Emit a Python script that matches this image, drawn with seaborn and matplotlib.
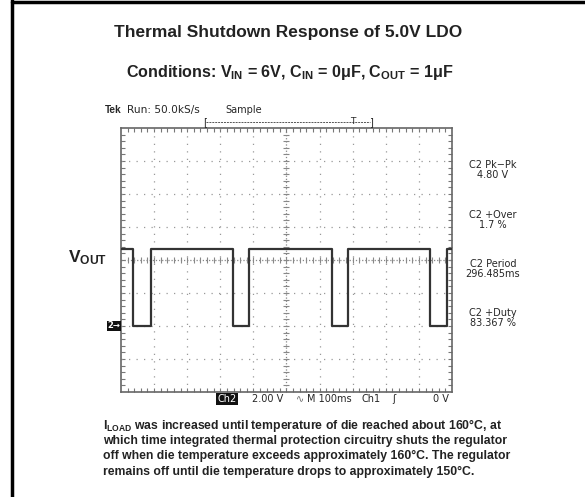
import numpy as np
import pandas as pd
import matplotlib
matplotlib.use("Agg")
import matplotlib.pyplot as plt
import seaborn as sns
from matplotlib.lines import Line2D

# scope trace data: edge times (ms) alternate falling / rising
edge_times = [37, 91, 339, 387, 637, 687, 934, 984]
v_high = 4.67
v_low = 0.0
t_start, t_end = 0, 1000

readout_labels = ["C2 Pk\u2212Pk", "C2 +Over", "C2 Period", "C2 +Duty"]
readout_values = ["4.80 V", "1.7 %", "296.485ms", "83.367 %"]

para_lines = [
    "$I_{LOAD}$ was increased until temperature of die reached about 160\u00b0C, at",
    "which time integrated thermal protection circuitry shuts the regulator",
    "off when die temperature exceeds approximately 160\u00b0C. The regulator",
    "remains off until die temperature drops to approximately 150\u00b0C.",
]

sns.set_style("white")
plt.rcParams["font.family"] = ["Liberation Sans", "DejaVu Sans"]
plt.rcParams["mathtext.fontset"] = "custom"
plt.rcParams["mathtext.rm"] = "Liberation Sans:bold"
plt.rcParams["mathtext.it"] = "Liberation Sans:bold"
plt.rcParams["mathtext.bf"] = "Liberation Sans:bold"

W, H = 585, 497
fig = plt.figure(figsize=(W / 100, H / 100), dpi=100)


def px(x, y):
    return x / W, 1 - y / H


# build the stepped waveform from the edges
ts, vs = [t_start], [v_high]
level = v_high
for t in edge_times:
    ts.append(t)
    vs.append(level)
    level = v_low if level == v_high else v_high
    ts.append(t)
    vs.append(level)
ts.append(t_end)
vs.append(level)
trace = pd.DataFrame({"time": ts, "volts": vs})

x0, x1, y0, y1 = 121, 452, 128, 392
ax = fig.add_axes([x0 / W, 1 - y1 / H, (x1 - x0) / W, (y1 - y0) / H])
sns.lineplot(data=trace, x="time", y="volts", sort=False, estimator=None,
             color="#333333", lw=1.6, ax=ax, zorder=5)
ax.set_xlim(0, 1000)
ax.set_ylim(-4, 12)
ax.set_xlabel("")
ax.set_ylabel("")

# dotted graticule
for xv in range(100, 1000, 100):
    if xv != 500:
        ax.axvline(xv, color="#999999", lw=0.9, ls=(0, (1, 5)), zorder=1)
for yv in range(-2, 12, 2):
    if yv != 4:
        ax.axhline(yv, color="#999999", lw=0.9, ls=(0, (1, 5)), zorder=1)
# centre crosshair with minor ticks
ax.axvline(500, color="#888888", lw=0.9, ls=(0, (1, 1.5)), zorder=1)
ax.axhline(4, color="#888888", lw=0.9, ls=(0, (1, 1.5)), zorder=1)
xm = np.arange(20, 1000, 20)
ym = np.arange(-3.6, 12, 0.4)
ax.plot(xm, np.full(len(xm), 4.0), ls="none", marker="|", ms=5, mew=0.8, color="#888888", zorder=2)
ax.plot(np.full(len(ym), 500.0), ym, ls="none", marker="_", ms=5, mew=0.8, color="#888888", zorder=2)

ax.set_xticks(np.arange(20, 1000, 20))
ax.set_yticks(np.arange(-3.6, 12, 0.4))
ax.tick_params(direction="in", length=3, width=0.8, color="#777777",
               top=True, right=True, bottom=True, left=True,
               labelbottom=False, labelleft=False)
for s in ax.spines.values():
    s.set_color("#666666")
    s.set_linewidth(1.2)

# page border
fig.add_artist(Line2D([12 / W, 12 / W], [0, 1], color="black", lw=2.5))
fig.add_artist(Line2D([12 / W, 1], [1 - 1.5 / H, 1 - 1.5 / H], color="black", lw=2.5))

# titles
fig.text(*px(288, 33), "Thermal Shutdown Response of 5.0V LDO", ha="center", va="center",
         fontsize=12.5, fontweight="bold", color="#222222")
fig.text(*px(290, 72), "Conditions: $V_{IN}$ = 6V, $C_{IN}$ = 0\u03bcF, $C_{OUT}$ = 1\u03bcF",
         ha="center", va="center", fontsize=11.6, fontweight="bold", color="#222222")

# scope header
fig.text(*px(105, 110), "Tek", ha="left", va="center", fontsize=7.2, fontweight="bold")
fig.text(*px(127, 110), "Run: 50.0kS/s", ha="left", va="center", fontsize=7.6,
         family="DejaVu Sans")
fig.text(*px(225, 110), "Sample", ha="left", va="center", fontsize=7, family="DejaVu Sans")
fig.add_artist(Line2D([206 / W, 370 / W], [1 - 122 / H] * 2, color="#555555", lw=0.7, ls=(0, (2, 1))))
fig.text(*px(205, 122), "[", ha="center", va="center", fontsize=7, family="DejaVu Sans")
fig.text(*px(371, 122), "]", ha="center", va="center", fontsize=7, family="DejaVu Sans")
fig.text(*px(353, 121), "T", ha="center", va="center", fontsize=6.5, family="DejaVu Sans")

# channel marker and VOUT
fig.text(*px(114, 326), "2\u2192", ha="center", va="center", fontsize=6, color="white",
         fontweight="bold", family="DejaVu Sans",
         bbox=dict(boxstyle="square,pad=0.1", fc="#111111", ec="none"))
fig.text(*px(88, 258), "$V_{OUT}$", ha="center", va="center", fontsize=12.5, color="#222222")

# readouts
ys = [165, 215, 264, 313]
for lab, val, yy in zip(readout_labels, readout_values, ys):
    fig.text(*px(493, yy), lab, ha="center", va="center", fontsize=7, family="DejaVu Sans")
    fig.text(*px(493, yy + 10), val, ha="center", va="center", fontsize=7, family="DejaVu Sans")

# status bar
fig.text(*px(227, 399), "Ch2", ha="center", va="center", fontsize=7, color="white",
         family="DejaVu Sans", bbox=dict(boxstyle="square,pad=0.1", fc="#111111", ec="none"))
fig.text(*px(252, 399), "2.00 V", ha="left", va="center", fontsize=7, family="DejaVu Sans")
fig.text(*px(296, 399), "\u223f", ha="left", va="center", fontsize=7, family="DejaVu Sans", color="#666666")
fig.text(*px(307, 399), "M 100ms", ha="left", va="center", fontsize=7, family="DejaVu Sans")
fig.text(*px(362, 399), "Ch1", ha="left", va="center", fontsize=7, family="DejaVu Sans")
fig.text(*px(392, 399), "\u0283", ha="left", va="center", fontsize=7, family="DejaVu Sans")
fig.text(*px(433, 399), "0 V", ha="left", va="center", fontsize=7, family="DejaVu Sans")

# description paragraph
for i, line in enumerate(para_lines):
    fig.text(*px(103, 425 + 15.7 * i), line, ha="left", va="center", fontsize=8.8,
             fontweight="bold", color="#222222")

fig.savefig("out.png", dpi=100)
